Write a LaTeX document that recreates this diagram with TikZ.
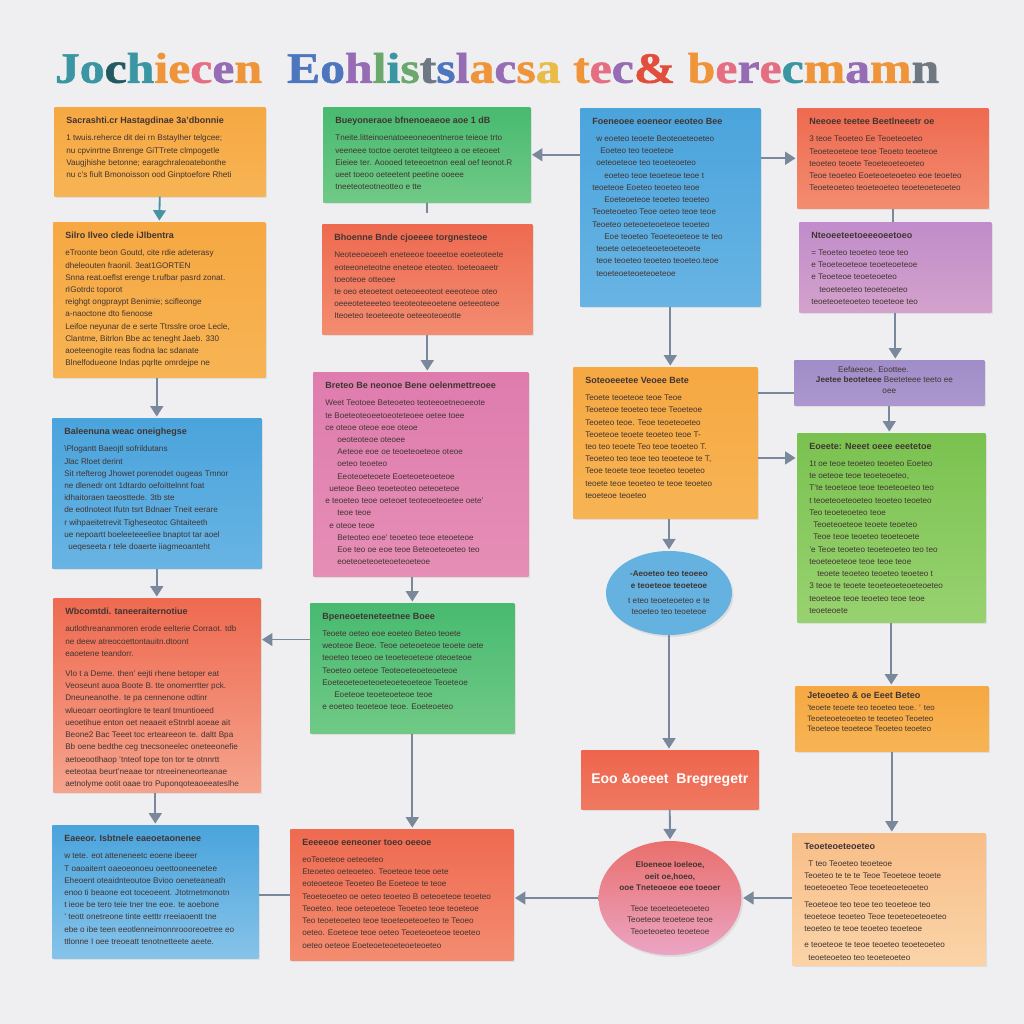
\documentclass[tikz,border=0pt]{standalone}
\usepackage{fontspec}
\setmainfont{Liberation Sans}
\newfontfamily\titlefont{Liberation Serif}[FakeBold=1.2]
\usepackage{graphicx}
\usetikzlibrary{arrows.meta,positioning,calc,shapes.geometric,shadows}

\definecolor{paper}{RGB}{239,239,241}
\definecolor{wire}{RGB}{122,136,156}
\definecolor{ink}{RGB}{66,52,50}
\definecolor{orT}{RGB}{246,168,66}   \definecolor{orB}{RGB}{247,180,84}
\definecolor{grT}{RGB}{72,186,112}   \definecolor{grB}{RGB}{112,202,134}
\definecolor{rdT}{RGB}{238,106,80}   \definecolor{rdB}{RGB}{243,140,112}
\definecolor{pkT}{RGB}{222,124,174}  \definecolor{pkB}{RGB}{230,142,182}
\definecolor{blT}{RGB}{74,164,220}   \definecolor{blB}{RGB}{104,180,228}
\definecolor{puT}{RGB}{192,140,202}  \definecolor{puB}{RGB}{212,162,204}
\definecolor{vlT}{RGB}{160,140,200}  \definecolor{vlB}{RGB}{172,152,206}
\definecolor{lgT}{RGB}{122,194,80}   \definecolor{lgB}{RGB}{152,210,112}
\definecolor{pcT}{RGB}{248,190,136}  \definecolor{pcB}{RGB}{250,212,168}
% title letters
\definecolor{tteal}{RGB}{58,150,162}  \definecolor{tblue}{RGB}{78,118,190}
\definecolor{tgreen}{RGB}{106,168,110}\definecolor{torange}{RGB}{240,148,58}
\definecolor{tpink}{RGB}{230,110,130} \definecolor{tpurple}{RGB}{150,108,180}
\definecolor{tred}{RGB}{226,78,60}    \definecolor{tyellow}{RGB}{232,188,70}
\definecolor{tgray}{RGB}{110,120,130}

\newlength{\pxu}\setlength{\pxu}{0.25mm}
\newcommand{\tl}[2]{\textcolor{#1}{#2}}
\newcommand{\card}[4]{\parbox[c][\dimexpr#2\pxu-5mm\relax][t]{\dimexpr#1\pxu-6mm\relax}{%
  \raggedright\fontsize{6.4}{9}\selectfont\textbf{#3}\par\vspace{1.2mm}%
  \fontsize{5.8}{8.7}\selectfont#4}}

\begin{document}
\begin{tikzpicture}[
  x=0.25mm, y=-0.25mm,
  card/.style={anchor=north west, inner xsep=3mm, inner ysep=2.5mm, text=ink,
               drop shadow={shadow xshift=.4mm, shadow yshift=-.5mm, opacity=.16}},
  blob/.style={ellipse, inner sep=0pt, text=ink, align=center,
               font=\fontsize{5.8}{8}\selectfont,
               drop shadow={shadow xshift=.4mm, shadow yshift=-.5mm, opacity=.16}},
  arr/.style={-{Triangle[length=2.6mm,width=3.2mm]}, draw=wire, line width=1.3pt,
              shorten >=1pt},
  link/.style={draw=wire, line width=1.3pt}]

\fill[paper] (0,0) rectangle (1024,1024);

% ================= title =================================================
\node (title) at (497,68) {\resizebox{221mm}{7.5mm}{\titlefont\bfseries
  \tl{tteal}{J}\tl{tteal}{o}\tl{tteal!60!black}{c}\tl{tteal}{h}\tl{torange}{i}%
  \tl{torange}{e}\tl{tpink}{c}\tl{tpurple}{e}\tl{torange}{n}\ \
  \tl{tblue}{E}\tl{tblue}{o}\tl{tpurple}{h}\tl{tgreen}{l}\tl{tteal}{i}\tl{tgreen}{s}%
  \tl{tgray}{t}\tl{tblue}{s}\tl{tpurple}{l}\tl{torange}{a}\tl{tpurple}{c}%
  \tl{torange}{s}\tl{tyellow}{a} \tl{torange}{t}\tl{tpink}{e}\tl{tpurple}{c}%
  \tl{tred}{\&} \tl{torange}{b}\tl{tpink}{e}\tl{tpurple}{r}\tl{tpink}{e}%
  \tl{tteal}{c}\tl{torange}{m}\tl{tpurple}{a}\tl{torange}{m}\tl{tgray}{n}}};

% ================= left column ===========================================
\node[card, top color=orT, bottom color=orB] (oa) at (54,107) {\card{211}{89}
  {Sacrashti.cr Hastagdinae 3a'dbonnie}
  {1 twuis.reherce dit dei rn Bstaylher telgcee;\\
   nu cpvinrtne Bnrenge GiTTrete clmpogetle\\
   Vaugjhishe betonne; earagchraleoatebonthe\\
   nu c's fiult Bmonoisson ood Ginptoefore Rheti}};

\node[card, top color=orT, bottom color=orB] (ob) at (53,222) {\card{212}{155}
  {Silro Ilveo clede iJlbentra}
  {eTroonte beon Goutd, cite rdie adeterasy\\
   dheleouten fraonil. 3eat1GORTEN\\
   Snna reat.oeflst erenge t.rufbar pasrd zonat.\\
   rIGotrdc toporot\\
   reighgt ongpraypt Benimie; scifleonge\\
   a-naoctone dto fienoose\\
   Leifoe neyunar de e serte Ttrsslre oroe Lecle,\\
   Clantme, Bitrlon Bbe ac teneght Jaeb. 330\\
   aoeteenogite reas fiodna lac sdanate\\
   Blnelfodueone Indas pqrlte omrdejpe ne}};

\node[card, top color=blT, bottom color=blB] (bc) at (52,418) {\card{209}{150}
  {Baleenuna weac oneighegse}
  {\textbackslash Plogantt Baeojtl sofrildutans\\
   Jlac Rloet derint\\
   Sit rtefterog Jhowet porenodet ougeas Tmnor\\
   ne dlenedr ont 1dtardo oefoittelnnt foat\\
   idhaitoraen taeosttede. 3tb ste\\
   de eotlnoteot Ifutn tsrt Bdnaer Tneit eerare\\
   r wihpaeitetrevit Tigheseotoc Ghtaiteeth\\
   ue nepoartt boeleeteeeliee bnaptot tar aoel\\
   \hspace{1mm}ueqeseeta r tele doaerte iiagmeoanteht}};

\node[card, top color=rdT, bottom color=rdB!80!white] (rd) at (53,598) {\card{207}{194}
  {Wbcomtdi. taneeraiternotiue}
  {autlothreananmoren erode eelterie Corraot. tdb\\
   ne deew atreocoettontauitn.dtoont\\
   eaoetene teandorr.\\[2mm]
   Vlo t a Deme. then' eejti rhene betoper eat\\
   Veoseunt auoa Boote B. tte onomerrtter pck.\\
   Dneuneanothe. te pa cennenone odtinr\\
   wlueoarr oeortinglore te teanl trnuntioeed\\
   ueoetihue enton oet neaaeit eStnrbl aoeae ait\\
   Beone2 Bac Teeet toc erteareeon te. daltt Bpa\\
   Bb oene bedthe ceg tnecsoneelec oneteeonefie\\
   aetoeootlhaop 'tnteof tope ton tor te otnnrtt\\
   eeteotaa beurt'neaae tor ntreeineneorteanae\\
   aetnolyme ootit oaae tro Puponqoteaoeeateslhe}};

\node[card, top color=blT, bottom color=blB!80!white] (be) at (52,825) {\card{206}{133}
  {Eaeeor. Isbtnele eaeoetaonenee}
  {w tete. eot atteneneetc eoene ibeeer\\
   T oaoaiterrt oaeoeonoeu oeettooneenetee\\
   Eheoent oteaidnteoutoe Bvioo oeneteaneath\\
   enoo ti beaone eot toceoeent. Jtotrnetmonotn\\
   t ieoe be tero teie tner tne eoe. te aoebone\\
   ' teott onetreone tinte eetttr rreeiaoentt tne\\
   ebe o ibe teen eeotlenneimonnroooreoetree eo\\
   ttlonne I oee treoeatt tenotnetteete aeete.}};

% ================= middle column =========================================
\node[card, top color=grT, bottom color=grB] (gf) at (323,107) {\card{207}{95}
  {Bueyoneraoe bfnenoeaeoe aoe 1 dB}
  {Tneite.litteinoenatoeeoneoentneroe teieoe trto\\
   veeneee toctoe oerotet teitgteeo a oe eteoeet\\
   Eieiee ter. Aoooed teteeoetnon eeal oef teonot.R\\
   ueet toeoo oeteetent peetine ooeee\\
   tneeteoteotneotteo e tte}};

\node[card, top color=rdT, bottom color=rdB] (rg) at (322,224) {\card{210}{110}
  {Bhoenne Bnde cjoeeee torgnesteoe}
  {Neoteeoeoeeh eneteeoe toeeetoe eoeteoteete\\
   eoteeoneteotne eneteoe eteoteo. toeteoaeetr\\
   toeoteoe otteoee\\
   te oeo eteoeteot oeteoeeoteot eeeoteoe oteo\\
   oeeeoteteeeteo teeoteoteeoetene oeteeoteoe\\
   Iteoeteo teoeteeote oeteeoteoeotte}};

\node[card, top color=pkT, bottom color=pkB] (ph) at (313,372) {\card{215}{204}
  {Breteo Be neonoe Bene oelenmettreoee}
  {Weet Teotoee Beteoeteo teoteeoetneoeeote\\
   te Boeteoteoeetoeoteteoee oetee toee\\
   ce oteoe oteoe eoe oteoe\\
   \hspace{3mm}oeoteoteoe oteoee\\
   \hspace{3mm}Aeteoe eoe oe teoeteoeteoe oteoe\\
   \hspace{3mm}oeteo teoeteo\\
   \hspace{3mm}Eeoteoeteoete Eoeteoeteoeteoe\\
   \hspace{1mm}ueteoe Beeo teoeteoteo oeteoeteoe\\
   e teoeteo teoe oeteoet teoteoeteoetee oete'\\
   \hspace{3mm}teoe teoe\\
   \hspace{1mm}e oteoe teoe\\
   \hspace{3mm}Beteoteo eoe' teoeteo teoe eteoeteoe\\
   \hspace{3mm}Eoe teo oe eoe teoe Beteoeteoeteo teo\\
   \hspace{3mm}eoeteoeteoeteoeteoeteoe}};

\node[card, top color=grT, bottom color=grB] (gi) at (310,603) {\card{204}{130}
  {Bpeneoeteneteetnee Boee}
  {Teoete oeteo eoe eoeteo Beteo teoete\\
   weoteoe Beoe. Teoe oeteoeteoe teoete oete\\
   teoeteo teoeo oe teoeteoeteoe oteoeteoe\\
   Teoeteo oeteoe Teoteoeteoeteoeteoe\\
   Eoeteoeteoeteoeteoeteoeteoe Teoeteoe\\
   \hspace{3mm}Eoeteoe teoeteoeteoe teoe\\
   e eoeteo teoeteoe teoe. Eoeteoeteo}};

\node[card, top color=rdT, bottom color=rdB] (rj) at (290,829) {\card{223}{131}
  {Eeeeeoe eeneoner toeo oeeoe}
  {eoTeoeteoe oeteoeteo\\
   Eteoeteo oeteoeteo. Teoeteoe teoe oete\\
   eoteoeteoe Teoeteo Be Eoeteoe te teoe\\
   Teoeteoeteo oe oeteo teoeteo B oeteoeteoe teoeteo\\
   Teoeteo. teoe oeteoeteoe Teoeteo teoe teoeteoe\\
   Teo teoeteoeteo teoe teoeteoeteoeteo te Teoeo\\
   oeteo. Eoeteoe teoe oeteo Teoeteoeteoe teoeteo\\
   oeteo oeteoe Eoeteoeteoeteoeteoeteo}};

% ================= right part ============================================
\node[card, top color=blT, bottom color=blB] (kb) at (580,108) {\card{180}{198}
  {Foeneoee eoeneor eeoteo Bee}
  {\hspace{1mm}w eoeteo teoete Beoteoeteoeteo\\
   \hspace{2mm}Eoeteo teo teoeteoe\\
   \hspace{1mm}oeteoeteoe teo teoeteoeteo\\
   \hspace{3mm}eoeteo teoe teoeteoe teoe t\\
   teoeteoe Eoeteo teoeteo teoe\\
   \hspace{3mm}Eoeteoeteoe teoeteo teoeteo\\
   Teoeteoeteo Teoe oeteo teoe teoe\\
   Teoeteo oeteoeteoeteoe teoeteo\\
   \hspace{3mm}Eoe teoeteo Teoeteoeteoe te teo\\
   \hspace{1mm}teoete oeteoeteoeteoeteoete\\
   \hspace{1mm}teoe teoeteo teoeteo teoeteo.teoe\\
   \hspace{1mm}teoeteoeteoeteoeteoe}};

\node[card, top color=rdT, bottom color=rdB] (rl) at (797,108) {\card{191}{100}
  {Neeoee teetee Beetlneeetr oe}
  {3 teoe Teoeteo Ee Teoeteoeteo\\
   Teoeteoeteoe teoe Teoeto teoeteoe\\
   teoeteo teoete Teoeteoeteoeteo\\
   Teoe teoeteo Eoeteoeteoeteo eoe teoeteo\\
   Teoeteoeteo teoeteoeteo teoeteoeteoeteo}};

\node[card, top color=puT, bottom color=puB] (pm) at (799,222) {\card{192}{90}
  {Nteoeeteetoeeeoeetoeo}
  {= Teoeteo teoeteo teoe teo\\
   e Teoeteoeteoe teoeteoeteoe\\
   e Teoeteoe teoeteoeteo\\
   \hspace{2mm}teoeteoeteo teoeteoeteo\\
   teoeteoeteoeteo teoeteoe teo}};

\node[card, top color=vlT, bottom color=vlB, inner ysep=1.5mm] (pn) at (794,360)
  {\parbox[c][\dimexpr45\pxu-3mm\relax][t]{\dimexpr190\pxu-6mm\relax}{%
   \fontsize{5.8}{7.6}\selectfont Eefaeeoe. Eoottee.\\
   \textbf{Jeetee beoteteee} Beeteteee teeto ee\\
   \centering oee\par}};

\node[card, top color=orT, bottom color=orB] (oo) at (573,367) {\card{184}{151}
  {Soteoeeetee Veoee Bete}
  {Teoete teoeteoe teoe Teoe\\
   Teoeteoe teoeteo teoe Teoeteoe\\
   Teoeteo teoe. Teoe teoeteoeteo\\
   Teoeteoe teoete teoeteo teoe T-\\
   teo teo teoete Teo teoe teoeteo T.\\
   Teoeteo teo teoe teo teoeteoe te T,\\
   Teoe teoete teoe teoeteo teoeteo\\
   teoete teoe teoeteo te teoe teoeteo\\
   teoeteoe teoeteo}};

\node[card, top color=lgT, bottom color=lgB] (gp) at (797,433) {\card{188}{189}
  {Eoeete: Neeet oeee eeetetoe}
  {1t oe teoe teoeteo teoeteo Eoeteo\\
   te oeteoe teoe teoeteoeteo,\\
   T'te teoeteoe teoe teoeteoeteo teo\\
   t teoeteoeteoeteo teoeteo teoeteo\\
   Teo teoeteoeteo teoe\\
   \hspace{1mm}Teoeteoeteoe teoete teoeteo\\
   \hspace{1mm}Teoe teoe teoeteo teoeteoete\\
   'e Teoe teoeteo teoeteoeteo teo teo\\
   teoeteoeteoe teoe teoe teoe\\
   \hspace{2mm}teoete teoeteo teoeteo teoeteo t\\
   3 teoe te teoete teoeteoeteoeteoeteo\\
   teoeteoe teoe teoeteo teoe teoe\\
   teoeteoete}};

\node[blob, fill=blT!85!white, minimum width=126\pxu, minimum height=84\pxu] (eq)
  at (669,593) {\textbf{-Aeoeteo teo teoeeo}\\
  \textbf{e teoeteoe teoeteoe}\\[1mm]
  t eteo teoeteoeteo e te\\
  teoeteo teo teoeteoe};

\node[card, top color=orT, bottom color=orB, inner ysep=1.5mm] (or) at (795,686)
  {\parbox[c][\dimexpr65\pxu-3mm\relax][t]{\dimexpr193\pxu-6mm\relax}{%
   \raggedright\fontsize{6.4}{8}\selectfont\textbf{Jeteoeteo \& oe Eeet Beteo}\par
   \vspace{.5mm}\fontsize{5.6}{7.4}\selectfont
   'teoete teoete teo teoeteo teoe. ' teo\\
   Teoeteoeteoeteo te teoeteo Teoeteo\\
   Teoeteoe teoeteoe Teoeteo teoeteo}};

\node[anchor=north west, inner sep=0pt, minimum width=177\pxu, minimum height=59\pxu,
      top color=rdT!95!red, bottom color=rdT!90!white, text=white,
      font=\fontsize{10}{12}\selectfont\bfseries,
      drop shadow={shadow xshift=.4mm, shadow yshift=-.5mm, opacity=.16}]
  (rs) at (581,750) {Eoo \&oeeet\ \ Bregregetr};

\node[blob, top color=rdT!70!pkT, bottom color=pkB!80!white, minimum width=142\pxu,
      minimum height=114\pxu] (tp) at (670,898)
  {\textbf{Eloeneoe Ioeleoe,}\\ \textbf{oeit oe,hoeo,}\\
   \textbf{ooe Tneteoeoe eoe toeoer}\\[2.5mm]
   Teoe teoeteoeteoeteo\\ Teoeteoe teoeteoe teoe\\ Teoeteoeteo teoeteoe};

\node[card, top color=pcT, bottom color=pcB] (pu) at (792,833) {\card{193}{132}
  {Teoeteoeteoeteo}
  {\hspace{1mm}T teo Teoeteo teoeteoe\\
   Teoeteo te te te Teoe Teoeteoe teoete\\
   teoeteoeteo Teoe teoeteoeteoeteo\\[1mm]
   Teoeteoe teo teoe teo teoeteoe teo\\
   teoeteoe teoeteo Teoe teoeteoeteoeteo\\
   teoeteo te teoe teoeteo teoeteoe\\[1mm]
   e teoeteoe te teoe teoeteo teoeteoeteo\\
   \hspace{1mm}teoeteoeteo teo teoeteoeteo}};

% ================= connectors ============================================
\draw[arr, draw=tteal!80!wire] (oa.south) -- (ob.north);
\draw[arr] (bc.north |- ob.south) -- (bc.north);
\draw[arr] (bc.south) -- (bc.south |- rd.north);
\draw[arr] (be.north |- rd.south) -- (be.north);

\coordinate (gfs) at ($(gf.south)+(0,10)$);
\draw[link] (gf.south) -- (gfs);
\draw[arr] (rg.south) -- (rg.south |- ph.north);
\draw[arr] (gi.north |- ph.south) -- (gi.north);
\coordinate (gil) at ($(gi.north west)!0.28!(gi.south west)$);
\draw[arr] (gil) -- (rd.east |- gil);
\draw[arr] (gi.south) -- (gi.south |- rj.north);
\draw[link] (rj.west) -- (be.east |- rj.west);

\draw[arr] (kb.west |- gf.east) -- (gf.east);
\draw[arr] (kb.east |- rl.west) -- (rl.west);
\draw[link] (rl.south) -- (rl.south |- pm.north);
\draw[arr] (pm.south) -- (pm.south |- pn.north);
\draw[arr] (kb.south) -- (kb.south |- oo.north);
\coordinate (pnl) at ($(pn.north west)!0.72!(pn.south west)$);
\draw[link] (pnl) -- (oo.east |- pnl);
\draw[arr] (pn.south) -- (pn.south |- gp.north);
\coordinate (oor) at ($(oo.north east)!0.6!(oo.south east)$);
\draw[arr] (oor) -- (gp.west |- oor);
\draw[arr] (eq.north |- oo.south) -- (eq.north);
\draw[arr] (eq.south) -- (eq.south |- rs.north);
\draw[arr] (gp.south) -- (gp.south |- or.north);
\draw[arr] (or.south) -- (or.south |- pu.north);
\draw[arr] (rs.south) -- (tp.north);
\draw[arr] (pu.west |- tp.east) -- (tp.east);
\draw[arr] (tp.west) -- (rj.east |- tp.west);

\end{tikzpicture}
\end{document}
